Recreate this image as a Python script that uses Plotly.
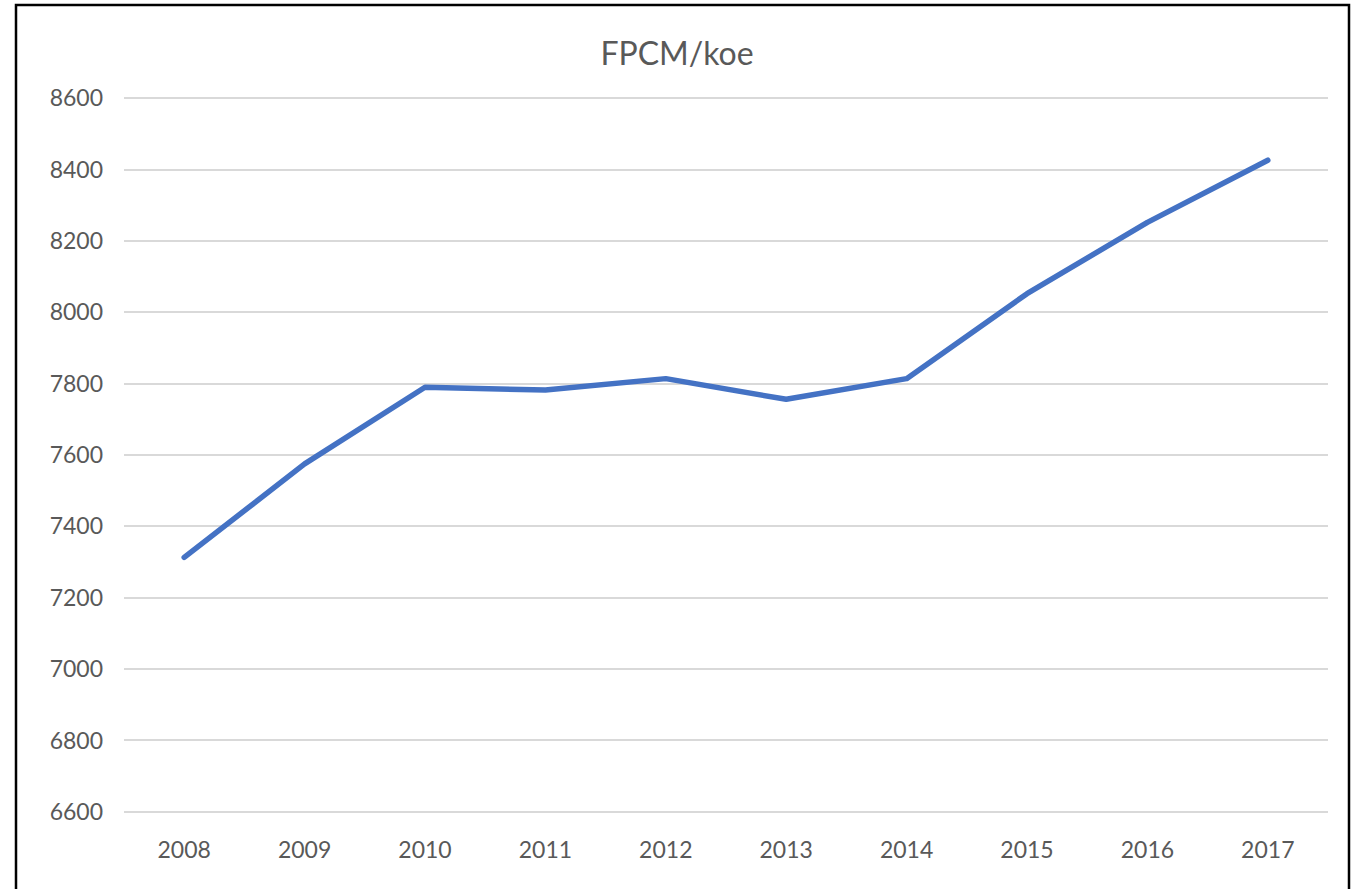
import plotly.graph_objects as go

years = ["2008", "2009", "2010", "2011", "2012", "2013", "2014", "2015", "2016", "2017"]
fpcm_per_koe = [7313, 7575, 7790, 7782, 7814, 7756, 7814, 8052, 8252, 8426]
y_ticks = [6600, 6800, 7000, 7200, 7400, 7600, 7800, 8000, 8200, 8400, 8600]

W, H = 1354, 889
L, R, T, B = 124, 26, 96, 75
pw, ph = W - L - R, H - T - B

def px_x(x):
    return (x - L) / pw

def px_y(y):
    return (H - B - y) / ph

fig = go.Figure()
fig.add_trace(go.Scatter(
    x=years, y=fpcm_per_koe, mode="lines",
    line=dict(color="#4472C4", width=5.5),
    hoverinfo="x+y", showlegend=False,
))

fig.update_layout(
    width=W, height=H,
    margin=dict(l=L, r=R, t=T, b=B),
    paper_bgcolor="white", plot_bgcolor="white",
    font=dict(family="Lato", color="#595959", size=23),
    title=dict(text="FPCM/koe", x=0.5, xanchor="center", y=1 - 54 / H, yanchor="middle",
               font=dict(family="Lato", size=32, color="#595959")),
    xaxis=dict(type="category", range=[-0.5, 9.5], showgrid=False, zeroline=False, showline=False,
               ticks="", ticklabelstandoff=20, tickfont=dict(size=23, color="#595959")),
    yaxis=dict(range=[6594, 8606], tickvals=y_ticks, showgrid=True,
               gridcolor="#D9D9D9", gridwidth=2, zeroline=False, showline=False,
               ticks="", ticklabelstandoff=20, tickfont=dict(size=23, color="#595959")),
    shapes=[dict(type="rect", xref="paper", yref="paper",
                 x0=px_x(16), x1=px_x(1349), y0=px_y(900), y1=px_y(5),
                 line=dict(color="black", width=2.5), fillcolor="rgba(0,0,0,0)", layer="above")],
)

fig.write_html(
    "out.html",
    config={"displayModeBar": False},
    post_script=(
        "document.body.style.margin='0';document.body.style.overflow='hidden';"
        "document.querySelectorAll('.scatterlayer path.js-line').forEach(function(p){"
        "p.style.strokeLinecap='round';p.style.strokeLinejoin='round';});"
    ),
)
